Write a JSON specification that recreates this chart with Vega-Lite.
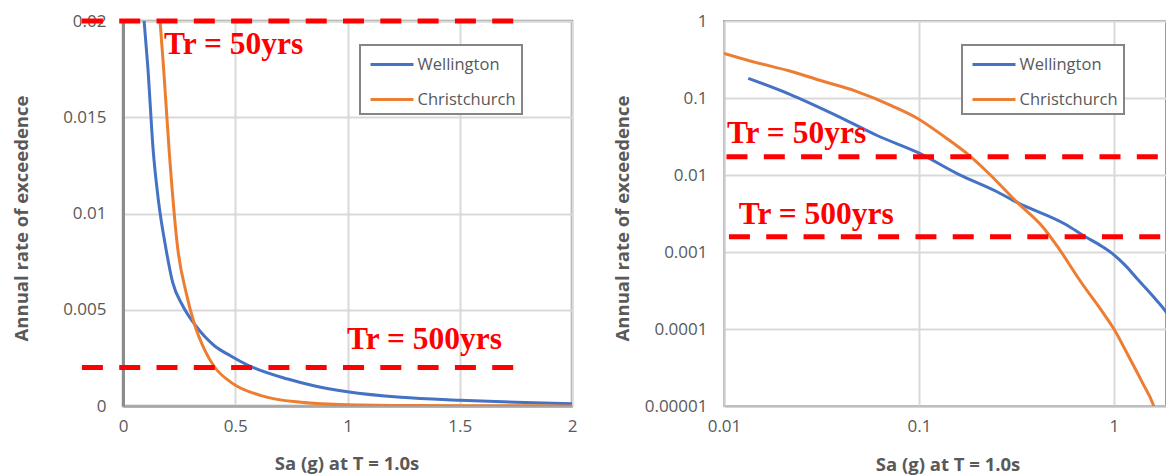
{
  "$schema": "https://vega.github.io/schema/vega-lite/v6.json",
  "background": "white",
  "padding": {"left": 10, "top": 10, "right": 0, "bottom": 0},
  "spacing": 152,
  "bounds": "flush",
  "config": {
    "font": "Open Sans",
    "axis": {
      "labelFont": "Open Sans", "labelFontSize": 17, "labelColor": "#595959", "labelFlush": false,
      "titleFont": "Open Sans", "titleFontSize": 18.5, "titleFontWeight": "bold", "titleColor": "#595959",
      "ticks": false, "tickSize": 0, "gridColor": "#d9d9d9", "gridWidth": 2
    },
    "legend": {
      "orient": "none", "labelFont": "Open Sans", "labelFontSize": 16.5, "labelColor": "#595959",
      "symbolType": "M-1.79,0H1.79", "symbolSize": 576, "symbolStrokeWidth": 3, "symbolOffset": 12.5,
      "labelOffset": 12, "rowPadding": 13, "padding": 6,
      "strokeColor": "#858585", "strokeWidth": 2, "fillColor": "white"
    }
  },
  "datasets": {
    "lin": [
      {"city": "Wellington", "sa": 0.094, "rate": 0.02},
      {"city": "Wellington", "sa": 0.11, "rate": 0.0177},
      {"city": "Wellington", "sa": 0.135, "rate": 0.0132},
      {"city": "Wellington", "sa": 0.157, "rate": 0.01075},
      {"city": "Wellington", "sa": 0.1915, "rate": 0.00816},
      {"city": "Wellington", "sa": 0.221, "rate": 0.00643},
      {"city": "Wellington", "sa": 0.266, "rate": 0.00521},
      {"city": "Wellington", "sa": 0.318, "rate": 0.00426},
      {"city": "Wellington", "sa": 0.407, "rate": 0.00313},
      {"city": "Wellington", "sa": 0.48, "rate": 0.0026},
      {"city": "Wellington", "sa": 0.555, "rate": 0.00213},
      {"city": "Wellington", "sa": 0.734, "rate": 0.0014},
      {"city": "Wellington", "sa": 0.85, "rate": 0.00105},
      {"city": "Wellington", "sa": 1.0, "rate": 0.00074},
      {"city": "Wellington", "sa": 1.238, "rate": 0.00045},
      {"city": "Wellington", "sa": 1.5, "rate": 0.0003},
      {"city": "Wellington", "sa": 1.75, "rate": 0.0002},
      {"city": "Wellington", "sa": 2.0, "rate": 0.00012},
      {"city": "Christchurch", "sa": 0.165, "rate": 0.02},
      {"city": "Christchurch", "sa": 0.18, "rate": 0.0177},
      {"city": "Christchurch", "sa": 0.206, "rate": 0.0132},
      {"city": "Christchurch", "sa": 0.244, "rate": 0.00816},
      {"city": "Christchurch", "sa": 0.281, "rate": 0.0059},
      {"city": "Christchurch", "sa": 0.318, "rate": 0.00426},
      {"city": "Christchurch", "sa": 0.362, "rate": 0.00296},
      {"city": "Christchurch", "sa": 0.407, "rate": 0.00204},
      {"city": "Christchurch", "sa": 0.481, "rate": 0.00123},
      {"city": "Christchurch", "sa": 0.615, "rate": 0.00054},
      {"city": "Christchurch", "sa": 0.793, "rate": 0.00019},
      {"city": "Christchurch", "sa": 1.0, "rate": 0.00006},
      {"city": "Christchurch", "sa": 1.3, "rate": 0.00002},
      {"city": "Christchurch", "sa": 1.6, "rate": 0.00001},
      {"city": "Christchurch", "sa": 2.0, "rate": 0.000005}
    ],
    "log": [
      {"city": "Wellington", "sa": 0.01332, "rate": 0.18},
      {"city": "Wellington", "sa": 0.02177, "rate": 0.1117},
      {"city": "Wellington", "sa": 0.03665, "rate": 0.0614},
      {"city": "Wellington", "sa": 0.0618, "rate": 0.0321},
      {"city": "Wellington", "sa": 0.0991, "rate": 0.0195},
      {"city": "Wellington", "sa": 0.1598, "rate": 0.0102},
      {"city": "Wellington", "sa": 0.2468, "rate": 0.0062},
      {"city": "Wellington", "sa": 0.3203, "rate": 0.00437},
      {"city": "Wellington", "sa": 0.5635, "rate": 0.00229},
      {"city": "Wellington", "sa": 0.717, "rate": 0.00157},
      {"city": "Wellington", "sa": 0.87, "rate": 0.00118},
      {"city": "Wellington", "sa": 1.0, "rate": 0.00092},
      {"city": "Wellington", "sa": 1.15, "rate": 0.00066},
      {"city": "Wellington", "sa": 1.323, "rate": 0.000442},
      {"city": "Wellington", "sa": 1.6, "rate": 0.00026},
      {"city": "Wellington", "sa": 1.87, "rate": 0.00016},
      {"city": "Wellington", "sa": 2.0, "rate": 0.00012},
      {"city": "Christchurch", "sa": 0.01, "rate": 0.38},
      {"city": "Christchurch", "sa": 0.01466, "rate": 0.288},
      {"city": "Christchurch", "sa": 0.02177, "rate": 0.224},
      {"city": "Christchurch", "sa": 0.03066, "rate": 0.171},
      {"city": "Christchurch", "sa": 0.04736, "rate": 0.123},
      {"city": "Christchurch", "sa": 0.0731, "rate": 0.0787},
      {"city": "Christchurch", "sa": 0.097, "rate": 0.0555},
      {"city": "Christchurch", "sa": 0.1372, "rate": 0.0305},
      {"city": "Christchurch", "sa": 0.1822, "rate": 0.0177},
      {"city": "Christchurch", "sa": 0.2262, "rate": 0.0107},
      {"city": "Christchurch", "sa": 0.3203, "rate": 0.00437},
      {"city": "Christchurch", "sa": 0.435, "rate": 0.00207},
      {"city": "Christchurch", "sa": 0.518, "rate": 0.00114},
      {"city": "Christchurch", "sa": 0.672, "rate": 0.00042},
      {"city": "Christchurch", "sa": 0.891, "rate": 0.000155},
      {"city": "Christchurch", "sa": 1.0, "rate": 0.0001},
      {"city": "Christchurch", "sa": 1.175, "rate": 0.0000469},
      {"city": "Christchurch", "sa": 1.4, "rate": 0.0000201},
      {"city": "Christchurch", "sa": 1.6, "rate": 0.00001},
      {"city": "Christchurch", "sa": 1.7, "rate": 0.000006}
    ],
    "trLin": [
      {"label": "Tr = 50yrs", "rate": 0.02, "sa1": -0.183, "sa2": 1.75, "tx": 0.183, "ty": 0.01829},
      {"label": "Tr = 500yrs", "rate": 0.002, "sa1": -0.183, "sa2": 1.75, "tx": 0.998, "ty": 0.00296}
    ],
    "trLog": [
      {"label": "Tr = 50yrs", "rate": 0.0173, "sa1": 0.0103, "sa2": 1.85, "tx": 0.01035, "ty": 0.0263},
      {"label": "Tr = 500yrs", "rate": 0.00158, "sa1": 0.0106, "sa2": 1.85, "tx": 0.01191, "ty": 0.00229}
    ]
  },
  "hconcat": [
    {
      "width": 449,
      "height": 385,
      "view": {"stroke": "#9a9a9a", "strokeWidth": 2.5},
      "layer": [
        {
          "data": {"name": "lin"},
          "mark": {"type": "line", "strokeWidth": 3, "clip": true, "interpolate": "monotone"},
          "encoding": {
            "x": {"field": "sa", "type": "quantitative",
              "scale": {"domain": [0, 2], "nice": false, "zero": false},
              "axis": {"values": [0, 0.5, 1, 1.5, 2], "format": "~g", "title": "Sa (g) at T = 1.0s",
                "titleX": 223.5, "titleY": 57, "titleBaseline": "middle", "labelPadding": 12,
                "domainColor": "#a6a6a6", "domainWidth": 2.5}},
            "y": {"field": "rate", "type": "quantitative",
              "scale": {"domain": [0, 0.02], "nice": false},
              "axis": {"values": [0, 0.005, 0.01, 0.015, 0.02], "format": "~g", "title": "Annual rate of exceedence",
                "titleX": -102, "titleY": 197, "titleAngle": -90, "titleBaseline": "middle", "titleAlign": "center",
                "labelPadding": 17, "domainColor": "#8c8c8c", "domainWidth": 3}},
            "color": {"field": "city", "type": "nominal",
              "scale": {"domain": ["Wellington", "Christchurch"], "range": ["#4472C4", "#ED7D31"]},
              "legend": {"title": null, "legendX": 237, "legendY": 24}},
            "order": {"field": "sa", "type": "quantitative"}
          }
        },
        {
          "data": {"name": "trLin"},
          "mark": {"type": "rule", "color": "#FF0000", "strokeWidth": 5, "strokeDash": [21, 16.3], "clip": false},
          "encoding": {
            "x": {"field": "sa1", "type": "quantitative"},
            "x2": {"field": "sa2"},
            "y": {"field": "rate", "type": "quantitative"}
          }
        },
        {
          "data": {"name": "trLin"},
          "mark": {"type": "text", "align": "left", "baseline": "alphabetic", "font": "Liberation Serif",
            "fontWeight": "bold", "fontSize": 31.5, "color": "#FF0000"},
          "encoding": {
            "x": {"field": "tx", "type": "quantitative"},
            "y": {"field": "ty", "type": "quantitative"},
            "text": {"field": "label"}
          }
        }
      ]
    },
    {
      "width": 442,
      "height": 385,
      "view": {"stroke": "#9a9a9a", "strokeWidth": 2},
      "layer": [
        {
          "data": {"name": "log"},
          "mark": {"type": "line", "strokeWidth": 3, "clip": true, "interpolate": "monotone"},
          "encoding": {
            "x": {"field": "sa", "type": "quantitative",
              "scale": {"type": "log", "domain": [0.01, 1.85], "nice": false},
              "axis": {"values": [0.01, 0.1, 1], "format": "~f", "title": "Sa (g) at T = 1.0s",
                "titleX": 223.5, "titleY": 58, "titleBaseline": "middle", "labelPadding": 12,
                "domainColor": "#bfbfbf", "domainWidth": 2}},
            "y": {"field": "rate", "type": "quantitative",
              "scale": {"type": "log", "domain": [0.00001, 1], "nice": false},
              "axis": {"values": [0.00001, 0.0001, 0.001, 0.01, 0.1, 1], "format": "~f", "title": "Annual rate of exceedence",
                "titleX": -102, "titleY": 197, "titleAngle": -90, "titleBaseline": "middle", "titleAlign": "center",
                "labelPadding": 17, "domainColor": "#cccccc", "domainWidth": 2}},
            "color": {"field": "city", "type": "nominal",
              "scale": {"domain": ["Wellington", "Christchurch"], "range": ["#4472C4", "#ED7D31"]},
              "legend": {"title": null, "legendX": 238, "legendY": 24}},
            "order": {"field": "sa", "type": "quantitative"}
          }
        },
        {
          "data": {"name": "trLog"},
          "mark": {"type": "rule", "color": "#FF0000", "strokeWidth": 5, "strokeDash": [21, 16.3], "clip": true},
          "encoding": {
            "x": {"field": "sa1", "type": "quantitative"},
            "x2": {"field": "sa2"},
            "y": {"field": "rate", "type": "quantitative"}
          }
        },
        {
          "data": {"name": "trLog"},
          "mark": {"type": "text", "align": "left", "baseline": "alphabetic", "font": "Liberation Serif",
            "fontWeight": "bold", "fontSize": 31.5, "color": "#FF0000"},
          "encoding": {
            "x": {"field": "tx", "type": "quantitative"},
            "y": {"field": "ty", "type": "quantitative"},
            "text": {"field": "label"}
          }
        }
      ]
    }
  ],
  "resolve": {
    "scale": {"color": "independent", "x": "independent", "y": "independent"},
    "legend": {"color": "independent"}
  }
}
